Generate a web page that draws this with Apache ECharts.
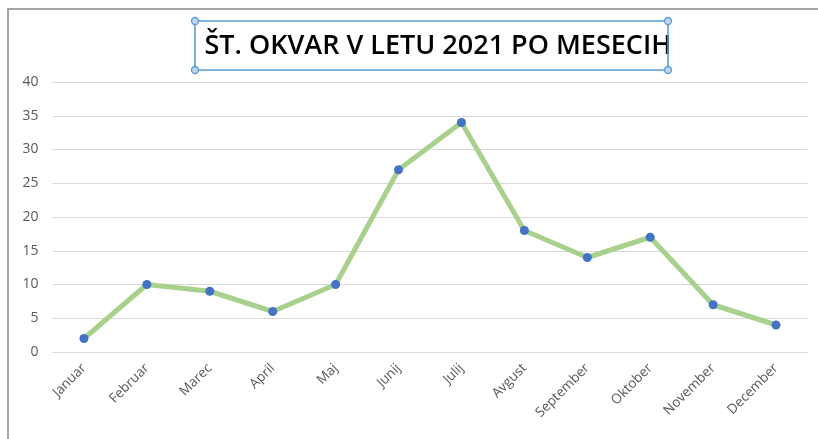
<!DOCTYPE html>
<html>
<head>
<meta charset="utf-8">
<script src="https://cdn.jsdelivr.net/npm/echarts@6/dist/echarts.min.js"></script>
<style>
  html, body { margin: 0; padding: 0; background: #fff; }
  #chart { width: 818px; height: 439px; }
</style>
</head>
<body>
<div id="chart"></div>
<script>
const months = ["Januar", "Februar", "Marec", "April", "Maj", "Junij", "Julij", "Avgust", "September", "Oktober", "November", "December"];
const failures = [2, 10, 9, 6, 10, 27, 34, 18, 14, 17, 7, 4];
const yTicks = { min: 0, max: 40, step: 5 };

const chartDom = document.getElementById("chart");
const myChart = echarts.init(chartDom, null, { renderer: "canvas" });

// selection handles round the title box (Excel look)
const box = { x: 195, y: 21, w: 473, h: 49 };
const handles = [
  [box.x, box.y], [box.x + box.w, box.y],
  [box.x, box.y + box.h], [box.x + box.w, box.y + box.h]
].map(([cx, cy]) => ({
  type: "circle",
  shape: { cx, cy, r: 3.5 },
  style: { fill: "#bdd7ee", stroke: "#5b9bd5", lineWidth: 1.3 },
  z: 20
}));

const option = {
  animation: false,
  backgroundColor: "#fff",
  title: {
    text: "ŠT. OKVAR V LETU 2021 PO MESECIH",
    left: 433,
    top: 28,
    textAlign: "center",
    textStyle: {
      fontFamily: "Open Sans",
      fontWeight: 600,
      fontSize: 27,
      color: "#000"
    }
  },
  graphic: [
    // outer chart frame (top and left edges visible)
    {
      type: "polyline",
      shape: { points: [[8, 439], [8, 9], [818, 9]] },
      style: { stroke: "#a6a6a6", lineWidth: 2, fill: null },
      z: 10
    },
    {
      type: "rect",
      shape: { x: box.x, y: box.y, width: box.w, height: box.h },
      style: { fill: null, stroke: "#5b9bd5", lineWidth: 1.6 },
      z: 19
    },
    ...handles
  ],
  grid: {
    left: 52.5,
    right: 10.5,
    top: 82,
    bottom: 87
  },
  xAxis: {
    type: "category",
    data: months,
    boundaryGap: true,
    axisLine: { show: false },
    axisTick: { show: false },
    axisLabel: {
      rotate: 45,
      margin: 14,
      color: "#595959",
      fontFamily: "Open Sans",
      fontSize: 13.5,
      interval: 0,
      padding: [0, 0, 0, 0]
    }
  },
  yAxis: {
    type: "value",
    min: yTicks.min,
    max: yTicks.max,
    interval: yTicks.step,
    axisLine: { show: false },
    axisTick: { show: false },
    axisLabel: {
      color: "#595959",
      fontFamily: "Open Sans",
      fontSize: 14,
      margin: 14
    },
    splitLine: { lineStyle: { color: "#d9d9d9", width: 1 } }
  },
  series: [
    {
      type: "line",
      data: failures,
      symbol: "circle",
      symbolSize: 9,
      lineStyle: { color: "#a9d18e", width: 5 },
      itemStyle: { color: "#4472c4" },
      z: 5
    }
  ]
};

myChart.setOption(option);
</script>
</body>
</html>
